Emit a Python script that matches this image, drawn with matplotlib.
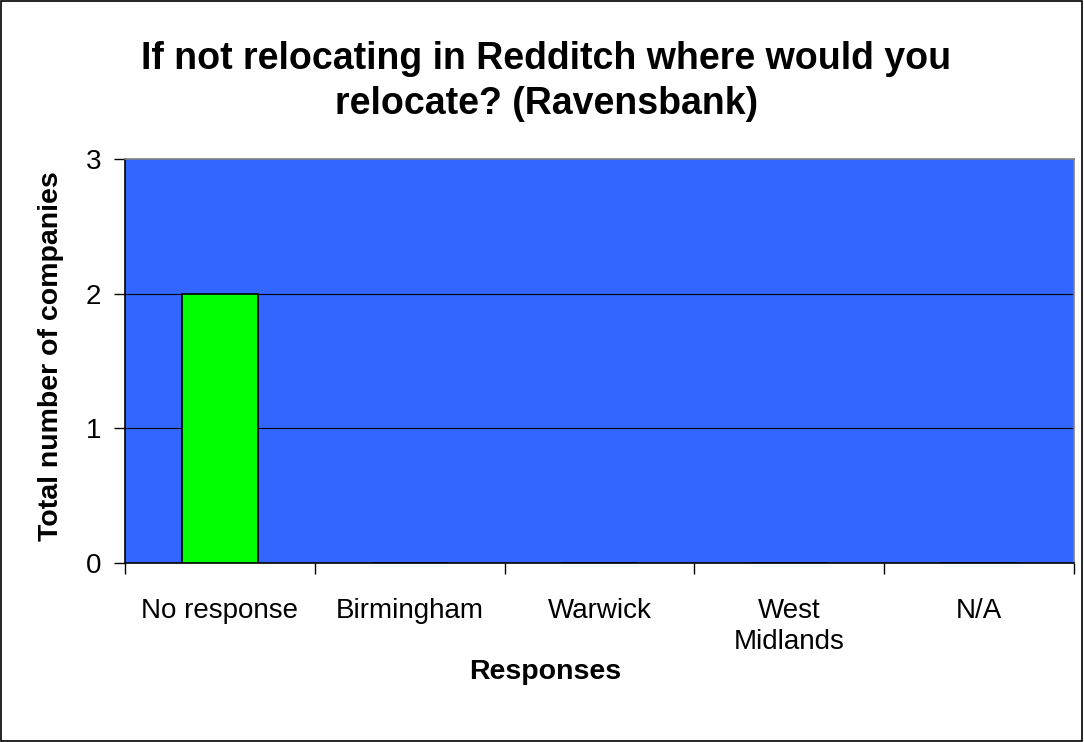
import matplotlib
matplotlib.use("Agg")
from matplotlib import pyplot as plt
from matplotlib.patches import Rectangle

categories = ["No response", "Birmingham", "Warwick", "West\nMidlands", "N/A"]
counts = [2, 0, 0, 0, 0]
y_ticks = [0, 1, 2, 3]

plt.rcParams["font.family"] = ["Liberation Sans", "DejaVu Sans"]

fig = plt.figure(figsize=(10.84, 7.42), dpi=100)
ax = fig.add_axes([125 / 1084, 1 - 563 / 742, 949 / 1084, 404 / 742])
ax.set_facecolor("#3366FF")

x = range(len(categories))
ax.bar(x, counts, width=0.4, color="#00FF00", edgecolor="black", linewidth=1.2, zorder=3)

ax.set_xlim(-0.5, len(categories) - 0.5)
ax.set_ylim(0, 3)
ax.set_yticks(y_ticks)
ax.set_yticklabels([str(v) for v in y_ticks], fontsize=20)
ax.set_xticks(list(x))
ax.set_xticklabels(categories, fontsize=20, linespacing=1.25)
# tick marks sit between categories, labels stay centred
ax.set_xticks([i - 0.5 for i in range(len(categories) + 1)], minor=True)
ax.tick_params(axis="x", which="major", length=0, pad=25)
ax.tick_params(axis="x", which="minor", length=8, width=1, direction="out")
ax.tick_params(axis="y", length=8, width=1, direction="out", pad=9)

for v in y_ticks[1:-1]:
    ax.axhline(v, color="black", linewidth=0.8, zorder=1)

ax.spines["left"].set_color("black")
ax.spines["bottom"].set_color("black")
ax.spines["top"].set_color("#808080")
ax.spines["right"].set_color("#808080")
for s in ax.spines.values():
    s.set_linewidth(1.2)

fig.text(0.504, 1 - 41 / 742, "If not relocating in Redditch where would you\nrelocate? (Ravensbank)",
         ha="center", va="top", fontsize=27, fontweight="bold", linespacing=1.33)
fig.text(51 / 1084, 1 - 356 / 742, "Total number of companies", rotation=90,
         ha="center", va="center", fontsize=20.5, fontweight="bold")
fig.text(545 / 1084, 1 - 672 / 742, "Responses", ha="center", va="center",
         fontsize=20.5, fontweight="bold")

# outer chart border
fig.patches.append(Rectangle((0.0005, 0.0007), 0.998, 0.998, transform=fig.transFigure,
                             fill=False, edgecolor="black", linewidth=1.2))

fig.savefig("out.png", dpi=100)
plt.close(fig)
